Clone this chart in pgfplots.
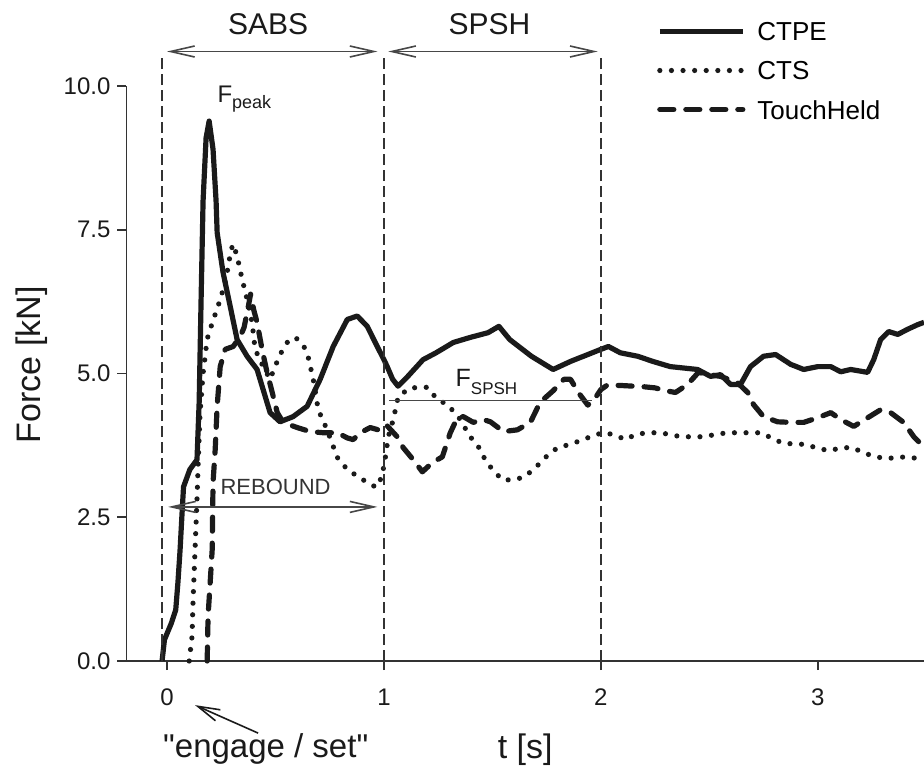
\documentclass[border=0pt]{standalone}
\usepackage{fontspec}
\setmainfont{Liberation Sans}
\usepackage{pgfplots}
\pgfplotsset{compat=1.18}
\usetikzlibrary{arrows.meta}
\definecolor{ink}{HTML}{1A1A1A}
\definecolor{axisgray}{HTML}{333333}
\definecolor{annot}{HTML}{474747}
\tikzset{
 vline/.style={draw=axisgray,line width=0.8pt,dash pattern=on 5.5pt off 2.5pt},
 darr/.style={draw=annot,line width=0.8pt,
   {Straight Barb[length=12pt,width=5.5pt]}-{Straight Barb[length=12pt,width=5.5pt]}},
 sarr/.style={draw=ink,line width=0.8pt,-{Straight Barb[length=11pt,width=6pt]}}
}
\begin{document}
\begin{tikzpicture}
\begin{axis}[
 scale only axis,width=398.75pt,height=287.5pt,
 xmin=-0.187,xmax=3.49,ymin=0,ymax=10,
 axis lines=left,axis line style={-,line width=0.8pt,draw=axisgray},
 tick align=outside,major tick length=4.5pt,
 tick style={line width=0.8pt,draw=axisgray},
 xtick={0,1,2,3},ytick={0,2.5,5,7.5,10},
 /pgf/number format/assume math mode=true,
 yticklabel style={/pgf/number format/.cd,fixed,fixed zerofill,precision=1},
 xticklabel style={yshift=-6pt},
 ticklabel style={font=\fontsize{12}{14}\selectfont,text=ink},
 xlabel={t [s]},ylabel={Force [kN]},
 xlabel style={at={(axis description cs:0.5,-0.155)},anchor=center,font=\fontsize{17}{20}\selectfont,text=ink},
 ylabel style={at={(axis description cs:-0.1185,0.515)},anchor=center,font=\fontsize{17}{20}\selectfont,text=ink},
 clip=false,
 legend style={draw=none,fill=none,at={(axis description cs:0.665,1.112)},anchor=north west,
   font=\fontsize{13}{15}\selectfont,row sep=10pt,inner sep=0pt,
   nodes={inner sep=0pt,text height=9.5pt,text depth=0pt}},
 legend cell align=left,
 legend image code/.code={\draw[#1] (0pt,0pt) -- (41.5pt,0pt); \path (47.5pt,0pt);},
]
\coordinate (o) at (rel axis cs:0,0);
\addplot[ink,line width=2.6pt,line join=round] coordinates {
 (-0.023,0.0) (-0.012,0.37) (0.02,0.66) (0.04,0.89) (0.05,1.36) (0.06,1.93) (0.07,2.63)
 (0.076,3.03) (0.105,3.33) (0.138,3.5) (0.148,4.5) (0.157,6.3) (0.166,8.0) (0.18,9.1)
 (0.194,9.39) (0.212,8.9) (0.226,8.0) (0.231,7.45) (0.258,6.76) (0.291,6.17) (0.323,5.59)
 (0.369,5.3) (0.415,5.07) (0.443,4.72) (0.475,4.32) (0.521,4.16) (0.581,4.25) (0.646,4.43)
 (0.706,4.9) (0.766,5.47) (0.831,5.94) (0.877,6.0) (0.923,5.82) (0.969,5.47) (1.0,5.24)
 (1.015,5.12) (1.04,4.9) (1.065,4.78) (1.11,4.95) (1.18,5.24) (1.24,5.36) (1.32,5.54)
 (1.40,5.63) (1.48,5.71) (1.53,5.82) (1.58,5.59) (1.68,5.3) (1.78,5.07) (1.86,5.21)
 (1.94,5.33) (2.0,5.42) (2.035,5.47) (2.09,5.36) (2.17,5.3) (2.24,5.21) (2.32,5.12)
 (2.446,5.07) (2.506,4.95) (2.552,4.98) (2.598,4.81) (2.644,4.81) (2.69,5.12) (2.75,5.3)
 (2.806,5.33) (2.875,5.16) (2.935,5.07) (3.0,5.12) (3.06,5.12) (3.106,5.03) (3.152,5.07)
 (3.23,5.02) (3.258,5.24) (3.29,5.59) (3.327,5.73) (3.369,5.68) (3.415,5.77) (3.461,5.85)
 (3.49,5.89)};
\addlegendentry{CTPE}
\addplot[ink,line width=2.6pt,line cap=round,dash pattern=on 0pt off 5.8pt] coordinates {
 (0.102,0) (0.115,0.42) (0.12,1.06) (0.129,1.93) (0.138,2.8) (0.143,3.38) (0.152,4.3)
 (0.166,5.0) (0.185,5.6) (0.21,5.9) (0.235,6.17) (0.262,6.5) (0.277,6.76) (0.295,7.15)
 (0.305,7.25) (0.323,7.04) (0.346,6.64) (0.369,6.29) (0.392,5.89) (0.406,5.42) (0.443,5.12)
 (0.475,4.9) (0.498,5.12) (0.521,5.33) (0.554,5.54) (0.591,5.63) (0.628,5.5) (0.651,5.28)
 (0.674,4.9) (0.697,4.37) (0.738,4.02) (0.785,3.54) (0.831,3.33) (0.904,3.15) (0.964,3.02)
 (0.99,3.2) (1.005,3.5) (1.02,3.9) (1.043,4.2) (1.066,4.6) (1.12,4.75) (1.2,4.76)
 (1.246,4.55) (1.292,4.46) (1.343,4.25) (1.398,3.9) (1.435,3.73) (1.467,3.5) (1.5,3.33)
 (1.546,3.15) (1.597,3.15) (1.647,3.2) (1.698,3.36) (1.744,3.54) (1.8,3.71) (1.85,3.76)
 (1.897,3.82) (1.952,3.9) (2.007,3.97) (2.058,3.94) (2.114,3.85) (2.16,3.94) (2.215,3.97)
 (2.266,3.97) (2.321,3.94) (2.367,3.9) (2.423,3.9) (2.473,3.9) (2.529,3.94) (2.584,3.97)
 (2.635,3.97) (2.69,3.97) (2.737,3.97) (2.792,3.87) (2.843,3.78) (2.898,3.78) (2.953,3.76)
 (3.004,3.69) (3.06,3.66) (3.106,3.71) (3.161,3.71) (3.212,3.62) (3.267,3.55) (3.323,3.52)
 (3.373,3.55) (3.42,3.54) (3.475,3.52) (3.49,3.51)};
\addlegendentry{CTS}
\addplot[ink,line width=2.6pt,line cap=round,line join=round,dash pattern=on 7pt off 6pt] coordinates {
 (0.185,0) (0.189,0.77) (0.208,1.93) (0.212,3.1) (0.222,3.68) (0.231,4.43) (0.245,5.12)
 (0.268,5.42) (0.305,5.47) (0.337,5.64) (0.355,5.8) (0.374,6.15) (0.385,6.38) (0.40,6.1)
 (0.415,5.89) (0.438,5.42) (0.461,5.02) (0.485,4.67) (0.508,4.32) (0.535,4.15) (0.6,4.06)
 (0.66,3.99) (0.72,3.97) (0.785,3.97) (0.831,3.88) (0.858,3.85) (0.891,3.97) (0.937,4.06)
 (0.974,4.02) (1.01,4.11) (1.061,3.9) (1.089,3.71) (1.135,3.5) (1.177,3.29) (1.223,3.45)
 (1.269,3.55) (1.306,3.97) (1.338,4.23) (1.366,4.25) (1.412,4.15) (1.458,4.2) (1.491,4.16)
 (1.551,3.99) (1.615,4.02) (1.675,4.15) (1.72,4.5) (1.78,4.7) (1.83,4.9) (1.86,4.9)
 (1.9,4.65) (1.94,4.45) (1.975,4.58) (2.0,4.72) (2.03,4.8) (2.1,4.79) (2.197,4.77)
 (2.25,4.75) (2.3,4.7) (2.344,4.67) (2.4,4.81) (2.45,5.02) (2.5,4.98) (2.552,4.95)
 (2.63,4.84) (2.677,4.67) (2.704,4.46) (2.75,4.25) (2.815,4.16) (2.875,4.15) (2.935,4.15)
 (3.0,4.23) (3.06,4.32) (3.106,4.2) (3.166,4.08) (3.23,4.23) (3.29,4.37) (3.336,4.32)
 (3.396,4.15) (3.443,3.9) (3.49,3.72)};
\addlegendentry{TouchHeld}
% phase markers and annotations
\draw[vline] (axis cs:-0.023,0) -- (axis cs:-0.023,10.54);
\draw[vline] (axis cs:1,0) -- (axis cs:1,10.54);
\draw[vline] (axis cs:2,0) -- (axis cs:2,10.54);
\draw[darr] (axis cs:0.0,10.6) -- (axis cs:0.97,10.6);
\draw[darr] (axis cs:1.02,10.6) -- (axis cs:1.985,10.6);
\node[font=\fontsize{15}{18}\selectfont,text=ink] at (axis cs:0.466,11.08) {SABS};
\node[font=\fontsize{15}{18}\selectfont,text=ink] at (axis cs:1.486,11.08) {SPSH};
\node[anchor=base west,inner sep=0pt,font=\fontsize{12}{14}\selectfont,text=ink]
 at (axis cs:0.231,9.72) {F\raisebox{-3pt}{\fontsize{9}{10}\selectfont peak}};
\draw[annot,line width=0.8pt] (axis cs:1.024,4.53) -- (axis cs:1.96,4.53);
\node[anchor=base west,inner sep=0pt,font=\fontsize{12.5}{14}\selectfont,text=ink]
 at (axis cs:1.329,4.77) {F\raisebox{-4pt}{\fontsize{8.5}{10}\selectfont SPSH}};
\draw[darr] (axis cs:0.005,2.68) -- (axis cs:0.97,2.68);
\node[anchor=base west,inner sep=0pt,font=\fontsize{11}{13}\selectfont,text=axisgray]
 at (axis cs:0.245,2.89) {REBOUND};
\draw[sarr] (axis cs:0.42,-1.254) -- (axis cs:0.129,-0.767);
\node[anchor=base,inner sep=0pt,font=\fontsize{16.5}{19}\selectfont,text=ink]
 at (axis cs:0.455,-1.68) {\textquotedbl engage / set\textquotedbl};
\end{axis}
\pgfresetboundingbox
\path (o) ++(-63.25pt,-53pt) rectangle ++(462pt,383.5pt);
\end{tikzpicture}
\end{document}
